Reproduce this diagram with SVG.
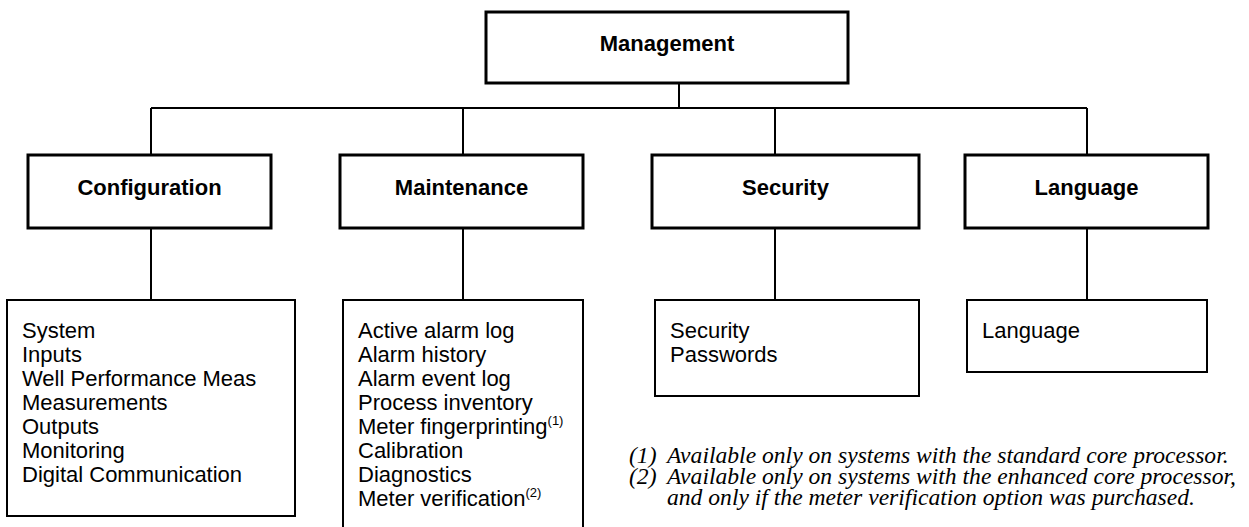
<svg xmlns="http://www.w3.org/2000/svg" width="1249" height="527" viewBox="0 0 1249 527">
<style>
.hdr{fill:#fff;stroke:#000;stroke-width:3}
.lst{fill:#fff;stroke:#000;stroke-width:2}
.conn{fill:none;stroke:#000;stroke-width:2}
.bt{font-family:"Liberation Sans",Arial,sans-serif;font-weight:bold;font-size:22px;fill:#000;text-anchor:middle}
.lt{font-family:"Liberation Sans",Arial,sans-serif;font-size:22px;fill:#000}
.sup{font-size:13px}
.fn{font-family:"Liberation Serif","Times New Roman",serif;font-style:italic;font-size:23.6px;fill:#000}
</style>
<rect width="1249" height="527" fill="#fff"/>
<g id="connectors">
<path class="conn" d="M679,83V108M151,108H1087M151,108V155M463,108V155M775,108V155M1087,108V155"/>
<path class="conn" d="M151,228V300M463,228V300M775,228V300M1087,228V300"/>
</g>
<g id="management">
<rect class="hdr" x="486" y="12" width="362" height="71"/>
<text class="bt" x="667" y="51">Management</text>
</g>
<g id="configuration">
<rect class="hdr" x="28" y="155" width="243" height="73"/>
<text class="bt" x="149.5" y="195">Configuration</text>
</g>
<g id="maintenance">
<rect class="hdr" x="340" y="155" width="243" height="73"/>
<text class="bt" x="461.5" y="195">Maintenance</text>
</g>
<g id="security">
<rect class="hdr" x="652" y="155" width="267" height="73"/>
<text class="bt" x="785.5" y="195">Security</text>
</g>
<g id="language">
<rect class="hdr" x="965" y="155" width="243" height="73"/>
<text class="bt" x="1086.5" y="195">Language</text>
</g>
<g id="configuration-items">
<rect class="lst" x="7" y="300" width="288" height="216"/>
<text class="lt" x="22" y="338">System</text>
<text class="lt" x="22" y="362">Inputs</text>
<text class="lt" x="22" y="386">Well Performance Meas</text>
<text class="lt" x="22" y="410">Measurements</text>
<text class="lt" x="22" y="434">Outputs</text>
<text class="lt" x="22" y="458">Monitoring</text>
<text class="lt" x="22" y="482">Digital Communication</text>
</g>
<g id="maintenance-items">
<rect class="lst" x="343" y="300" width="240" height="240"/>
<text class="lt" x="358" y="338">Active alarm log</text>
<text class="lt" x="358" y="362">Alarm history</text>
<text class="lt" x="358" y="386">Alarm event log</text>
<text class="lt" x="358" y="410">Process inventory</text>
<text class="lt" x="358" y="434">Meter fingerprinting<tspan class="sup" dy="-9">(1)</tspan></text>
<text class="lt" x="358" y="458">Calibration</text>
<text class="lt" x="358" y="482">Diagnostics</text>
<text class="lt" x="358" y="506">Meter verification<tspan class="sup" dy="-9">(2)</tspan></text>
</g>
<g id="security-items">
<rect class="lst" x="655" y="300" width="264" height="96"/>
<text class="lt" x="670" y="338">Security</text>
<text class="lt" x="670" y="362">Passwords</text>
</g>
<g id="language-items">
<rect class="lst" x="967" y="300" width="240" height="72"/>
<text class="lt" x="982" y="338">Language</text>
</g>
<g id="footnotes">
<text class="fn" x="629" y="463">(1)<tspan x="667">Available only on systems with the standard core processor.</tspan></text>
<text class="fn" x="629" y="484">(2)<tspan x="667">Available only on systems with the enhanced core processor,</tspan></text>
<text class="fn" x="667" y="505">and only if the meter verification option was purchased.</text>
</g>
</svg>
